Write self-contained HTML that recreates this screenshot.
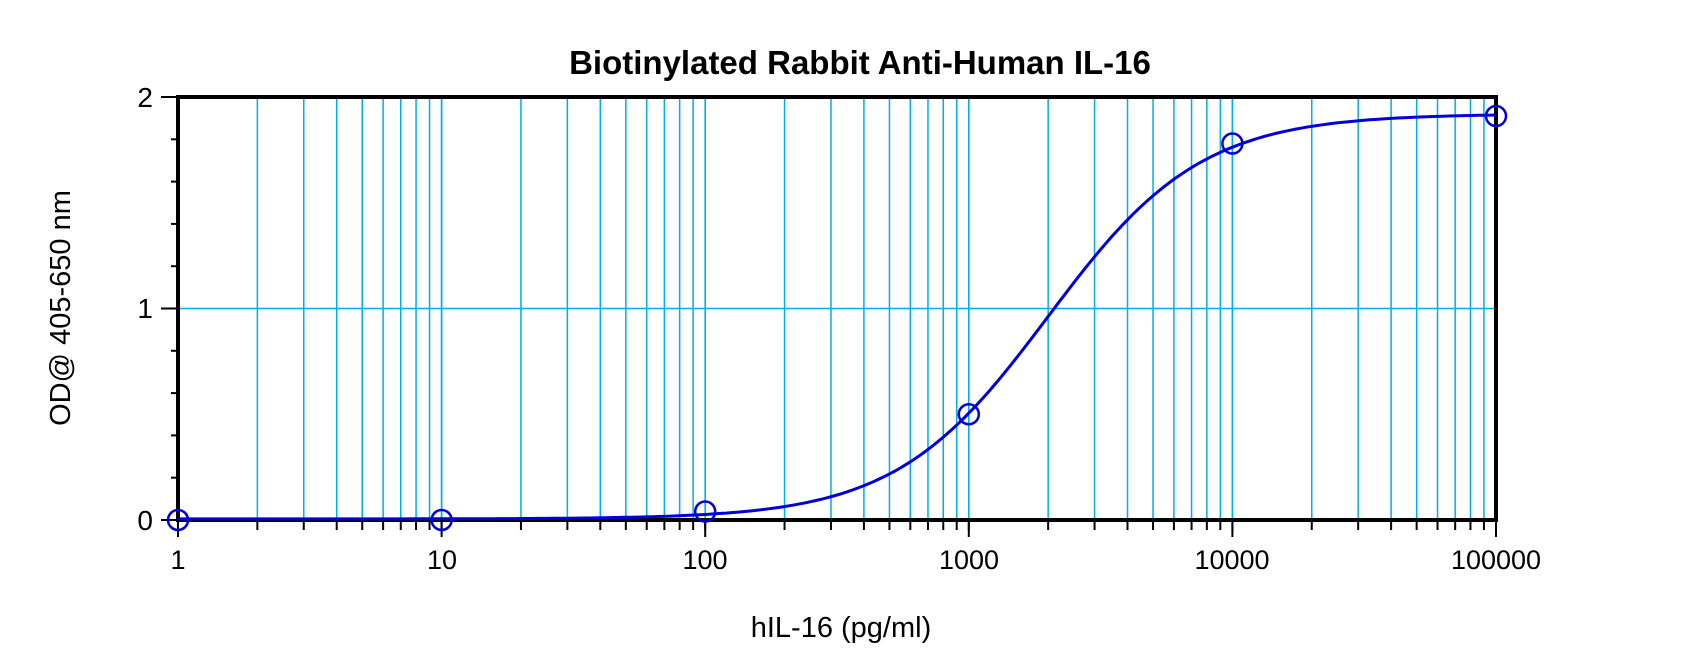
<!DOCTYPE html>
<html><head><meta charset="utf-8"><style>body{margin:0;background:#fff}svg{display:block}</style></head>
<body>
<svg id="s" width="1700" height="664" xmlns="http://www.w3.org/2000/svg" font-family="Liberation Sans, Arial, sans-serif">
<text x="860" y="74" text-anchor="middle" font-size="33" font-weight="bold">Biotinylated Rabbit Anti-Human IL-16</text>
<g id="grid" stroke="#00aee8" stroke-width="1.5"></g>
<g id="ticks" stroke="#000" stroke-width="2"></g>
<rect x="178" y="97" width="1318" height="423" fill="none" stroke="#000" stroke-width="4"/>
<g font-size="27" text-anchor="middle">
<text x="178" y="569">1</text><text x="442" y="569">10</text><text x="705" y="569">100</text>
<text x="969" y="569">1000</text><text x="1232" y="569">10000</text><text x="1496" y="569">100000</text>
</g>
<g font-size="28" text-anchor="end">
<text x="153" y="530">0</text><text x="153" y="318">1</text><text x="153" y="107">2</text>
</g>
<text x="841" y="637" text-anchor="middle" font-size="29">hIL-16 (pg/ml)</text>
<text transform="translate(70,308) rotate(-90)" text-anchor="middle" font-size="29">OD@ 405-650 nm</text>
<polyline id="curve" fill="none" stroke="#0000dd" stroke-width="3"/>
<g id="pts" fill="none" stroke="#0000dd" stroke-width="2.5"></g>
</svg>
<script>
var X0=178,D=263.6,Y0=520,S=211.5,ns="http://www.w3.org/2000/svg";
function px(v){return X0+D*Math.log10(v)}function py(y){return Y0-S*y}
function el(p,t,a){var e=document.createElementNS(ns,t);for(var k in a)e.setAttribute(k,a[k]);document.getElementById(p).appendChild(e)}
for(var d=0;d<5;d++)for(var m=1;m<=10;m++){if(d==0&&m==1)continue;var x=px(m*Math.pow(10,d));
el('grid','line',{x1:x,y1:97,x2:x,y2:520});el('ticks','line',{x1:x,y1:520,x2:x,y2:m==10?537:530});}
el('grid','line',{x1:178,y1:py(1),x2:1496,y2:py(1)});
el('ticks','line',{x1:178,y1:520,x2:178,y2:537});
for(var i=0;i<=10;i++){var y=py(i*0.2);el('ticks','line',{x1:i%5==0?161:171,y1:y,x2:178,y2:y});}
var pts=[];for(var l=0;l<=5.0001;l+=0.02){var v=Math.pow(10,l);var y=1.92+(0.005-1.92)/(1+Math.pow(v/2000,1.5));pts.push(px(v).toFixed(1)+','+py(y).toFixed(1));}
document.getElementById('curve').setAttribute('points',pts.join(' '));
[[1,0],[10,0],[100,0.04],[1000,0.5],[10000,1.78],[100000,1.91]].forEach(function(p){el('pts','circle',{cx:px(p[0]),cy:py(p[1]),r:10});});
</script>
</body></html>
